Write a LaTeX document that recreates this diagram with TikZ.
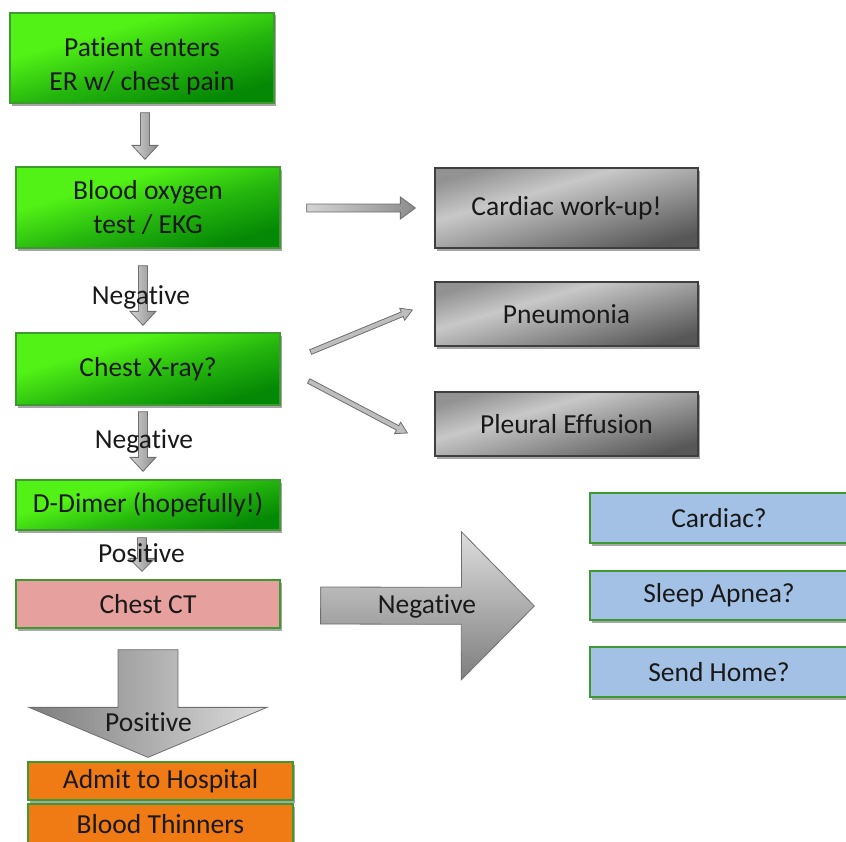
\documentclass[tikz,border=0pt]{standalone}
\usepackage{fontspec}
\setmainfont{Carlito}[Ligatures=NoCommon]
\usetikzlibrary{calc,shadows}
\definecolor{glight}{HTML}{52F216}
\definecolor{gmid}{HTML}{26B80E}
\definecolor{gdark}{HTML}{058805}
\definecolor{gborder}{HTML}{3C9A2E}
\definecolor{gtop}{HTML}{929292}
\definecolor{gband}{HTML}{C8C8C8}
\definecolor{gbot}{HTML}{575757}
\definecolor{grayborder}{HTML}{3F3F3F}
\definecolor{pinkfill}{HTML}{E6A19F}
\definecolor{orangefill}{HTML}{F07A14}
\definecolor{bluefill}{HTML}{A3C1E5}
\definecolor{arrowborder}{HTML}{6E6E6E}
\definecolor{arrlight}{HTML}{D4D4D4}
\definecolor{arrdark}{HTML}{8C8C8C}

\pgfdeclareverticalshading{metalshade}{100bp}{color(0bp)=(gbot); color(25bp)=(gbot); color(60bp)=(gband); color(75bp)=(gtop); color(100bp)=(gtop)}
\pgfdeclareverticalshading{greenshade}{100bp}{color(0bp)=(gdark); color(27bp)=(gdark); color(46bp)=(gmid); color(64bp)=(glight); color(100bp)=(glight)}

\newcommand\blockarr[6]{%
  \coordinate (ba-h) at ($(#3)!#6!(#2)$);
  \path[#1] ($(#2)!#4!90:(#3)$) -- ($(ba-h)!#4!-90:(#2)$) -- ($(ba-h)!#5!-90:(#2)$)
    -- (#3) -- ($(ba-h)!#5!90:(#2)$) -- ($(ba-h)!#4!90:(#2)$) -- ($(#2)!#4!-90:(#3)$) -- cycle;}

\tikzset{
  txt/.style={font=\fontsize{27.5bp}{34bp}\selectfont, text=black!90, align=center},
  base/.style={txt, rectangle, inner sep=2bp, line width=1.3bp,
    drop shadow={shadow xshift=2bp, shadow yshift=-2.5bp, opacity=.35, fill=black}},
  greenbox/.style={base, draw=gborder, shading=greenshade, shading angle=16},
  graybox/.style={base, draw=grayborder, shading=metalshade, shading angle=16},
  pinkbox/.style={base, draw=gborder, fill=pinkfill},
  orangebox/.style={base, draw=gborder, fill=orangefill},
  bluebox/.style={base, draw=gborder, fill=bluefill},
  smallarr/.style={draw=arrowborder, line width=.8bp, left color=arrlight, right color=arrdark},
  thinarr/.style={draw=arrowborder, line width=.8bp, fill=arrlight!70!arrdark},
  bigdown/.style={draw=arrowborder, line width=.8bp, left color=arrdark!90!black, right color=arrlight!80!white},
  bigright/.style={draw=arrowborder, line width=.8bp, top color=arrlight!80!white, bottom color=arrdark!90!black},
  lbl/.style={txt}
}

\begin{document}
\begin{tikzpicture}[x=1bp, y=-1bp]
\useasboundingbox (0,0) rectangle (846,842);

% left column boxes
\node[greenbox, minimum width=264bp, minimum height=90bp] (b1) at (142,58) {\rule{0pt}{35bp}Patient enters\\ER w/ chest pain};
\node[greenbox, minimum width=264bp, minimum height=81bp] (b2) at (148,207.5) {Blood oxygen\\test / EKG};
\node[greenbox, minimum width=264bp, minimum height=72bp] (b3) at (148,369) {Chest X-ray?};
\node[greenbox, minimum width=264bp, minimum height=50bp] (b4) at (148,505) {D-Dimer (hopefully!)};
\node[pinkbox, minimum width=264bp, minimum height=48bp] (b5) at (148,604) {Chest CT};
\node[orangebox, minimum width=265bp, minimum height=38bp] (b6) at (160.5,781) {Admit to Hospital};
\node[orangebox, minimum width=265bp, minimum height=40bp] (b7) at (160.5,824) {Blood Thinners};

% gray boxes
\node[graybox, minimum width=263bp, minimum height=80bp] (g1) at (566.5,208) {Cardiac work-up!};
\node[graybox, minimum width=263bp, minimum height=64bp] (g2) at (566.5,314) {Pneumonia};
\node[graybox, minimum width=263bp, minimum height=64bp] (g3) at (566.5,424) {Pleural Effusion};

% blue boxes
\node[bluebox, minimum width=258bp, minimum height=50bp] (c1) at (719,518) {Cardiac?};
\node[bluebox, minimum width=258bp, minimum height=49bp] (c2) at (719,595.5) {Sleep Apnea?};
\node[bluebox, minimum width=258bp, minimum height=50bp] (c3) at (719,672) {Send Home?};

% connector end points
\coordinate (a1s) at ($(b1.south)+(3,9)$);
\coordinate (a1e) at ($(b2.north)+(-3,-7)$);
\coordinate (a2s) at ($(b2.south)+(-5,17)$);
\coordinate (a2e) at ($(b3.north)+(-5,-7)$);
\coordinate (a3s) at ($(b3.south)+(-5,6)$);
\coordinate (a3e) at ($(b4.north)+(-5,-8)$);
\coordinate (a4s) at ($(b4.south)+(-6,7)$);
\coordinate (a4e) at ($(b5.north)+(-6,-8)$);
\coordinate (h1s) at ($(b2.east)+(26,0.5)$);
\coordinate (h1e) at ($(g1.west)+(-19,0)$);
\coordinate (d1s) at ($(b3.east)+(30,-17)$);
\coordinate (d1e) at ($(g2.west)+(-22,-4)$);
\coordinate (d2s) at ($(b3.east)+(28,12)$);
\coordinate (d2e) at ($(g3.west)+(-27,9)$);
\coordinate (bds) at ($(b5.south)+(0,21)$);
\coordinate (bde) at ($(b6.north)+(-12.5,-4)$);
\coordinate (brs) at ($(b5.east)+(40,1.5)$);
\coordinate (bre) at ($(c2.west)+(-55,10.5)$);

% connectors
\blockarr{smallarr}{a1s}{a1e}{4.5bp}{13bp}{14bp}
\blockarr{smallarr}{a2s}{a2e}{4.5bp}{13bp}{14bp}
\blockarr{smallarr}{a3s}{a3e}{4.5bp}{13bp}{14bp}
\blockarr{smallarr}{a4s}{a4e}{4.5bp}{13bp}{13bp}
\blockarr{smallarr}{h1s}{h1e}{4bp}{11bp}{15bp}
\blockarr{thinarr}{d1s}{d1e}{2.5bp}{6.5bp}{11bp}
\blockarr{thinarr}{d2s}{d2e}{2.5bp}{6.5bp}{11bp}
\blockarr{bigdown}{bds}{bde}{30bp}{119bp}{50bp}
\blockarr{bigright}{brs}{bre}{18.5bp}{74bp}{73bp}

% labels
\node[lbl] (l1) at (141,297) {Negative};
\node[lbl] (l2) at (144,441) {Negative};
\node[lbl] (l3) at (141.5,553) {Positive};
\node[lbl] (l4) at (148.5,722) {Positive};
\node[lbl] (l5) at (427,606) {Negative};
\end{tikzpicture}
\end{document}
